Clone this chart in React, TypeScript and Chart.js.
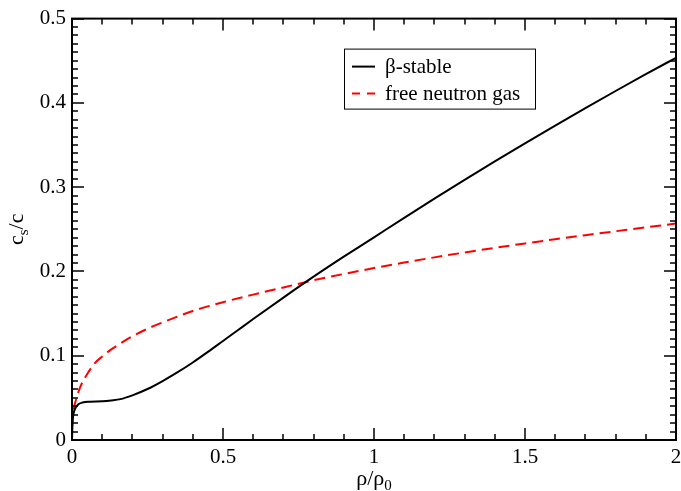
import { useEffect, useRef } from "react";
import { Chart, registerables } from "chart.js";

Chart.register(...registerables);

// beta-stable matter
const BETA_X = [0, 0.002, 0.005, 0.01, 0.02, 0.035, 0.06, 0.1, 0.13, 0.16, 0.2, 0.25, 0.3, 0.35, 0.4, 0.45, 0.5, 0.55, 0.6, 0.7, 0.8, 0.9, 1.0, 1.1, 1.2, 1.3, 1.4, 1.5, 1.6, 1.7, 1.8, 1.9, 2.0];
const BETA_Y = [0, 0.022, 0.031, 0.037, 0.042, 0.0445, 0.0455, 0.046, 0.047, 0.0485, 0.053, 0.0605, 0.07, 0.0805, 0.092, 0.1045, 0.1175, 0.1305, 0.1435, 0.169, 0.1938, 0.2175, 0.2405, 0.2636, 0.2863, 0.3086, 0.3305, 0.352, 0.3731, 0.3938, 0.4141, 0.434, 0.4535];

// free neutron gas
const GAS_X = [0.0005, 0.002, 0.006, 0.015, 0.03, 0.05, 0.075, 0.1, 0.13, 0.16, 0.2, 0.25, 0.3, 0.35, 0.4, 0.5, 0.6, 0.7, 0.8, 0.9, 1.0, 1.1, 1.2, 1.3, 1.4, 1.5, 1.6, 1.7, 1.8, 1.9, 2.0];
const GAS_Y = [0.016, 0.026, 0.037, 0.05, 0.065, 0.078, 0.091, 0.099, 0.1075, 0.1145, 0.123, 0.132, 0.1395, 0.1465, 0.153, 0.1635, 0.1725, 0.181, 0.1895, 0.197, 0.204, 0.2105, 0.2167, 0.2225, 0.228, 0.2332, 0.2382, 0.243, 0.2477, 0.2523, 0.2568];

const SERIES_LABELS = ["β-stable", "free neutron gas"];
const X_RANGE = [0, 2];
const Y_RANGE = [0, 0.5];

const FONT = '"Liberation Serif", serif';

function drawSubText(ctx: CanvasRenderingContext2D, parts: [string, boolean][], x: number, y: number) {
  // text centred on x; parts flagged true are set as subscripts
  const big = `22px ${FONT}`;
  const small = `15px ${FONT}`;
  let total = 0;
  for (const [t, sub] of parts) {
    ctx.font = sub ? small : big;
    total += ctx.measureText(t).width;
  }
  let cx = x - total / 2;
  ctx.textAlign = "left";
  ctx.textBaseline = "alphabetic";
  for (const [t, sub] of parts) {
    ctx.font = sub ? small : big;
    ctx.fillText(t, cx, sub ? y + 5 : y);
    cx += ctx.measureText(t).width;
  }
}

const framePlugin = {
  id: "frame",
  afterDatasetsDraw(chart: any) {
    const { ctx, chartArea: ca, scales } = chart;
    const xs = scales.x;
    const ys = scales.y;
    ctx.save();
    ctx.strokeStyle = "#000";
    ctx.lineWidth = 2;
    ctx.strokeRect(ca.left, ca.top, ca.right - ca.left, ca.bottom - ca.top);
    ctx.lineWidth = 1.5;
    ctx.beginPath();
    for (let i = 0; i <= 20; i++) {
      const px = Math.round(xs.getPixelForValue(i * 0.1));
      const len = i % 5 === 0 ? 12 : 6;
      ctx.moveTo(px, ca.bottom);
      ctx.lineTo(px, ca.bottom - len);
      ctx.moveTo(px, ca.top);
      ctx.lineTo(px, ca.top + len);
    }
    for (let i = 0; i <= 50; i++) {
      const py = Math.round(ys.getPixelForValue(i * 0.01));
      const len = i % 10 === 0 ? 12 : 6;
      ctx.moveTo(ca.left, py);
      ctx.lineTo(ca.left + len, py);
      ctx.moveTo(ca.right, py);
      ctx.lineTo(ca.right - len, py);
    }
    ctx.stroke();

    // legend box
    const lx = ca.left + 272;
    const ly = ca.top + 30;
    ctx.lineWidth = 1;
    ctx.fillStyle = "#fff";
    ctx.fillRect(lx, ly, 191, 60);
    ctx.strokeRect(lx + 0.5, ly + 0.5, 191, 60);
    const rows = [
      { y: ly + 18, color: "#000", dash: [] as number[] },
      { y: ly + 45, color: "#ff0000", dash: [8, 7] },
    ];
    rows.forEach((r, i) => {
      ctx.beginPath();
      ctx.setLineDash(r.dash);
      ctx.strokeStyle = r.color;
      ctx.lineWidth = 2;
      ctx.moveTo(lx + 8, r.y);
      ctx.lineTo(lx + 31, r.y);
      ctx.stroke();
      ctx.setLineDash([]);
      ctx.fillStyle = "#000";
      ctx.font = `21px ${FONT}`;
      ctx.textAlign = "left";
      ctx.textBaseline = "middle";
      ctx.fillText(SERIES_LABELS[i], lx + 41, r.y + 1);
    });

    // axis titles with subscripts
    ctx.fillStyle = "#000";
    drawSubText(ctx, [["ρ/ρ", false], ["0", true]], (ca.left + ca.right) / 2, 485);
    ctx.save();
    ctx.translate(23, (ca.top + ca.bottom) / 2);
    ctx.rotate(-Math.PI / 2);
    drawSubText(ctx, [["c", false], ["s", true], ["/c", false]], 0, 0);
    ctx.restore();
    ctx.restore();
  },
};

const fmt = (v: any) => `${+Number(v).toFixed(2)}`;

export default function App() {
  const canvasRef = useRef<HTMLCanvasElement>(null);

  useEffect(() => {
    document.body.style.margin = "0";
    if (!canvasRef.current) return;
    Chart.defaults.font.family = FONT;
    Chart.defaults.color = "#000";
    const chart = new Chart(canvasRef.current, {
      type: "line",
      data: {
        datasets: [
          {
            label: SERIES_LABELS[0],
            data: BETA_X.map((x, i) => ({ x, y: BETA_Y[i] })),
            borderColor: "#000",
            borderWidth: 2,
            pointRadius: 0,
            cubicInterpolationMode: "monotone",
          },
          {
            label: SERIES_LABELS[1],
            data: GAS_X.map((x, i) => ({ x, y: GAS_Y[i] })),
            borderColor: "#ff0000",
            borderWidth: 2,
            borderDash: [11, 6],
            pointRadius: 0,
            cubicInterpolationMode: "monotone",
          },
        ],
      },
      options: {
        animation: false,
        responsive: true,
        maintainAspectRatio: false,
        layout: { padding: { top: 16, right: 5, left: 0, bottom: 0 } },
        plugins: { legend: { display: false }, tooltip: { enabled: false } },
        scales: {
          x: {
            type: "linear",
            min: X_RANGE[0],
            max: X_RANGE[1],
            grid: { display: false, drawTicks: false },
            border: { display: false },
            ticks: { stepSize: 0.5, font: { size: 21 }, padding: 5, maxRotation: 0, callback: fmt },
            afterFit: (s: any) => {
              s.height = 51;
              s.paddingLeft = 0;
              s.paddingRight = 0;
            },
          },
          y: {
            type: "linear",
            min: Y_RANGE[0],
            max: Y_RANGE[1],
            grid: { display: false, drawTicks: false },
            border: { display: false },
            ticks: { stepSize: 0.1, font: { size: 21 }, padding: 6, callback: fmt },
            afterFit: (s: any) => { s.width = 72; },
          },
        },
      },
      plugins: [framePlugin],
    });
    return () => chart.destroy();
  }, []);

  return (
    <div style={{ width: 681, height: 491, position: "relative", background: "#fff" }}>
      <canvas ref={canvasRef} role="img" aria-label="Speed of sound versus density" />
    </div>
  );
}
